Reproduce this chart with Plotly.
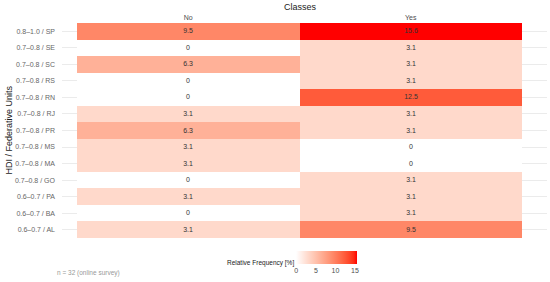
import plotly.graph_objects as go
import numpy as np

rows = ["0.8–1.0 / SP", "0.7–0.8 / SE", "0.7–0.8 / SC", "0.7–0.8 / RS", "0.7–0.8 / RN",
        "0.7–0.8 / RJ", "0.7–0.8 / PR", "0.7–0.8 / MS", "0.7–0.8 / MA", "0.7–0.8 / GO",
        "0.6–0.7 / PA", "0.6–0.7 / BA", "0.6–0.7 / AL"]
classes = ["No", "Yes"]
no_vals = [9.5, 0, 6.3, 0, 0, 3.1, 6.3, 3.1, 3.1, 0, 3.1, 0, 3.1]
yes_vals = [15.6, 3.1, 3.1, 3.1, 12.5, 3.1, 3.1, 0, 0, 3.1, 3.1, 3.1, 9.5]
cb_ticks = [0, 5, 10, 15]

W, H = 550, 282
L, R, T, B = 62, 547, 23, 238


def lab_to_rgb(Lv, a, b):
    fy = (Lv + 16) / 116
    fx = fy + a / 500
    fz = fy - b / 200
    def finv(t):
        return t ** 3 if t ** 3 > 0.008856 else (t - 16 / 116) / 7.787
    X, Y, Z = 0.95047 * finv(fx), 1.0 * finv(fy), 1.08883 * finv(fz)
    r = 3.2406 * X - 1.5372 * Y - 0.4986 * Z
    g = -0.9689 * X + 1.8758 * Y + 0.0415 * Z
    bb = 0.0557 * X - 0.2040 * Y + 1.0570 * Z
    def gam(c):
        c = max(0.0, min(1.0, c))
        return 1.055 * c ** (1 / 2.4) - 0.055 if c > 0.0031308 else 12.92 * c
    return tuple(int(round(255 * gam(c))) for c in (r, g, bb))


w_lab = (100.0, 0.0, 0.0)
r_lab = (53.24, 80.09, 67.20)
scale = []
for t in np.linspace(0, 1, 21):
    lab = [w_lab[i] + (r_lab[i] - w_lab[i]) * t for i in range(3)]
    rgb = lab_to_rgb(*lab)
    scale.append([float(t), "rgb(%d,%d,%d)" % rgb])

z = [[n, y] for n, y in zip(no_vals, yes_vals)]
text = [["{:g}".format(n), "{:g}".format(y)] for n, y in zip(no_vals, yes_vals)]

fig = go.Figure(go.Heatmap(
    z=z, x=[0, 1], y=list(range(len(rows))),
    text=text, texttemplate="%{text}",
    textfont=dict(size=7, color="#333333", family="Liberation Sans"),
    colorscale=scale, zmin=0, zmax=15.6, xgap=0, ygap=0,
    hoverinfo="skip",
    colorbar=dict(orientation="h", xref="container", yref="container",
                  x=(300 + 36) / W, xanchor="left", y=1 - 251 / H, yanchor="top",
                  len=61, lenmode="pixels", thickness=13, outlinewidth=0,
                  tickvals=cb_ticks, ticks="", ticklabelposition="outside bottom",
                  tickfont=dict(size=7, color="#4d4d4d", family="Liberation Sans"),
                  xpad=0, ypad=0),
))

ppu = 222.5
x0 = -0.5 - (77 - L) / ppu
x1 = 1.5 + (R - 522) / ppu
fig.update_layout(
    width=W, height=H, margin=dict(l=L, r=W - R, t=T, b=H - B),
    paper_bgcolor="white", plot_bgcolor="white",
    font=dict(family="Liberation Sans"),
    xaxis=dict(side="top", range=[x0, x1], tickvals=[0, 1], ticktext=classes,
               showgrid=False, zeroline=False, ticks="", ticklabelstandoff=1,
               tickfont=dict(size=7, color="#4d4d4d")),
    yaxis=dict(range=[len(rows) - 0.5, -0.5], tickvals=list(range(len(rows))), ticktext=rows,
               showgrid=True, gridcolor="#ebebeb", gridwidth=1, zeroline=False, ticks="",
               ticklabelstandoff=6, tickfont=dict(size=7, color="#666666")),
    annotations=[
        dict(text="Classes", xref="paper", yref="paper", x=(300 - L) / (R - L), y=1 + 16 / (B - T),
             showarrow=False, font=dict(size=9, color="#1a1a1a"), xanchor="center", yanchor="middle"),
        dict(text="HDI / Federative Units", xref="paper", yref="paper", x=(8 - L) / (R - L), y=0.5,
             textangle=-90, showarrow=False, font=dict(size=9, color="#1a1a1a"),
             xanchor="center", yanchor="middle"),
        dict(text="Relative Frequency [%]", xref="paper", yref="paper", x=(296 - L) / (R - L),
             y=-(263 - B) / (B - T), showarrow=False, font=dict(size=6.5, color="#1a1a1a"),
             xanchor="right", yanchor="middle"),
        dict(text="n = 32 (online survey)", xref="paper", yref="paper", x=(55 - L) / (R - L),
             y=-(273 - B) / (B - T), showarrow=False, font=dict(size=6.5, color="#999999"),
             xanchor="left", yanchor="middle"),
    ],
)

fig.write_html("out.html", config={"displayModeBar": False},
               post_script="document.body.style.margin='0px';")
